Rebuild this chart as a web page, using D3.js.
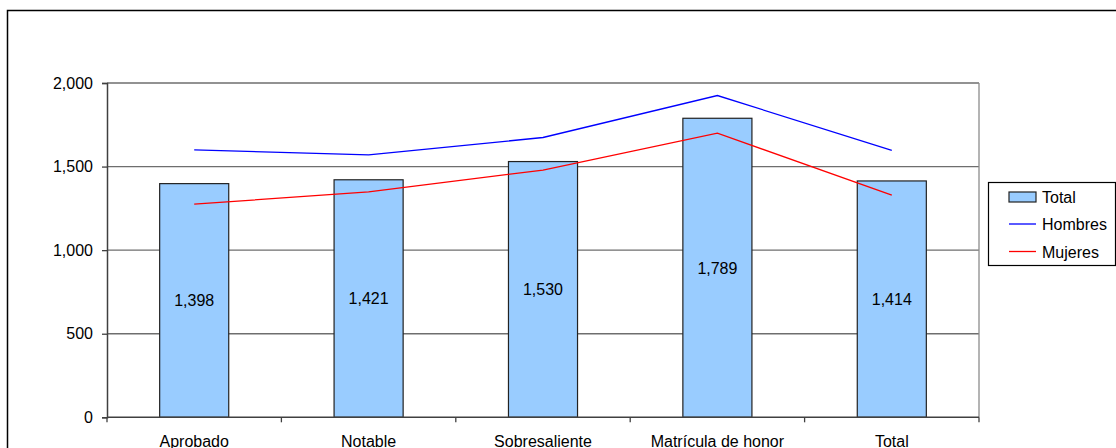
<!DOCTYPE html>
<html>
<head>
<meta charset="utf-8">
<script src="https://cdn.jsdelivr.net/npm/d3@7"></script>
<style>
  html, body { margin: 0; padding: 0; background: #fff; overflow: hidden; }
  text { font-family: "Liberation Sans", Arial, sans-serif; font-size: 16px; fill: #000; }
</style>
</head>
<body>
<div id="chart"></div>
<script>
var categories = ["Aprobado", "Notable", "Sobresaliente", "Matrícula de honor", "Total"];
var totalValues = [1398, 1421, 1530, 1789, 1414];
var hombresValues = [1600, 1570, 1674, 1925, 1597];
var mujeresValues = [1275, 1349, 1479, 1700, 1329];
var yTicks = [0, 500, 1000, 1500, 2000];
var legendLabels = ["Total", "Hombres", "Mujeres"];

var W = 1116, H = 448;
var margin = { top: 83, right: 137, bottom: 30.7, left: 107 };
var width = W - margin.left - margin.right;
var height = H - margin.top - margin.bottom;

const svg = d3.select("#chart")
    .append("svg")
    .attr("width", W)
    .attr("height", H);

// outer chart frame (runs off the right and bottom)
svg.append("rect")
    .attr("x", 7.5)
    .attr("y", 10.5)
    .attr("width", W + 20)
    .attr("height", H + 20)
    .attr("fill", "none")
    .attr("stroke", "#000")
    .attr("stroke-width", 1.5);

const g = svg.append("g")
    .attr("transform", "translate(" + margin.left + "," + margin.top + ")");

var x = d3.scaleBand()
    .domain(categories)
    .range([0, width])
    .padding(0);

var y = d3.scaleLinear()
    .domain([0, 2000])
    .range([height, 0]);

// gridlines
g.selectAll("line.grid")
    .data(yTicks.filter(function(d) { return d > 0; }))
    .enter()
    .append("line")
    .attr("class", "grid")
    .attr("x1", 0)
    .attr("x2", width)
    .attr("y1", function(d) { return y(d); })
    .attr("y2", function(d) { return y(d); })
    .attr("stroke", "#6e6e6e")
    .attr("stroke-width", 1.3);

// plot area right border
g.append("line")
    .attr("x1", width).attr("x2", width)
    .attr("y1", y(2000)).attr("y2", height)
    .attr("stroke", "#8c8c8c")
    .attr("stroke-width", 1.3);

// bars
var barW = x.bandwidth() * 0.396;
g.selectAll("rect.bar")
    .data(totalValues)
    .enter()
    .append("rect")
    .attr("class", "bar")
    .attr("x", function(d, i) { return x(categories[i]) + x.bandwidth() / 2 - barW / 2; })
    .attr("y", function(d) { return y(d); })
    .attr("width", barW)
    .attr("height", function(d) { return height - y(d); })
    .attr("fill", "#99ccff")
    .attr("stroke", "#222")
    .attr("stroke-width", 1.2);

// bar labels
g.selectAll("text.barlabel")
    .data(totalValues)
    .enter()
    .append("text")
    .attr("class", "barlabel")
    .attr("x", function(d, i) { return x(categories[i]) + x.bandwidth() / 2; })
    .attr("y", function(d) { return (y(d) + height) / 2; })
    .attr("dy", "0.36em")
    .attr("text-anchor", "middle")
    .text(function(d) { return d3.format(",")(d); });

// lines
var line = d3.line()
    .x(function(d, i) { return x(categories[i]) + x.bandwidth() / 2; })
    .y(function(d) { return y(d); });

g.append("path")
    .datum(hombresValues)
    .attr("d", line)
    .attr("fill", "none")
    .attr("stroke", "#0000ff")
    .attr("stroke-width", 1.3);

g.append("path")
    .datum(mujeresValues)
    .attr("d", line)
    .attr("fill", "none")
    .attr("stroke", "#ff0000")
    .attr("stroke-width", 1.3);

// y axis
var yAxis = g.append("g")
    .call(d3.axisLeft(y).tickValues(yTicks).tickSize(5).tickPadding(9).tickFormat(d3.format(",")));
yAxis.select(".domain").attr("stroke", "#404040").attr("stroke-width", 1.5);
yAxis.selectAll(".tick line").attr("stroke", "#404040").attr("stroke-width", 1.3);
yAxis.selectAll("text").style("font-size", "16px").attr("fill", "#000")
    .style("font-family", "'Liberation Sans', Arial, sans-serif");

// x axis: ticks at category boundaries
var xAxis = g.append("g")
    .attr("transform", "translate(0," + height + ")");
xAxis.append("line")
    .attr("x1", 0).attr("x2", width)
    .attr("stroke", "#404040").attr("stroke-width", 1.5);
xAxis.selectAll("line.xt")
    .data(d3.range(categories.length + 1))
    .enter()
    .append("line")
    .attr("class", "xt")
    .attr("x1", function(i) { return i * x.step(); })
    .attr("x2", function(i) { return i * x.step(); })
    .attr("y1", 0).attr("y2", 5)
    .attr("stroke", "#404040").attr("stroke-width", 1.3);
xAxis.selectAll("text")
    .data(categories)
    .enter()
    .append("text")
    .attr("x", function(d) { return x(d) + x.bandwidth() / 2; })
    .attr("y", 29.5)
    .attr("text-anchor", "middle")
    .text(function(d) { return d; });

// legend
const legend = svg.append("g").attr("transform", "translate(988,182)");
legend.append("rect")
    .attr("x", 0.5).attr("y", 0.5)
    .attr("width", 127).attr("height", 83)
    .attr("fill", "#fff")
    .attr("stroke", "#000")
    .attr("stroke-width", 1.2);
legend.append("rect")
    .attr("x", 21).attr("y", 10)
    .attr("width", 27).attr("height", 10)
    .attr("fill", "#99ccff")
    .attr("stroke", "#222")
    .attr("stroke-width", 1.2);
legend.append("line")
    .attr("x1", 21).attr("x2", 48)
    .attr("y1", 42).attr("y2", 42)
    .attr("stroke", "#0000ff").attr("stroke-width", 1.3);
legend.append("line")
    .attr("x1", 21).attr("x2", 48)
    .attr("y1", 69.5).attr("y2", 69.5)
    .attr("stroke", "#ff0000").attr("stroke-width", 1.3);
legend.selectAll("text")
    .data(legendLabels)
    .enter()
    .append("text")
    .attr("x", 54)
    .attr("y", function(d, i) { return 15 + i * 27.5; })
    .attr("dy", "0.36em")
    .text(function(d) { return d; });
</script>
</body>
</html>
